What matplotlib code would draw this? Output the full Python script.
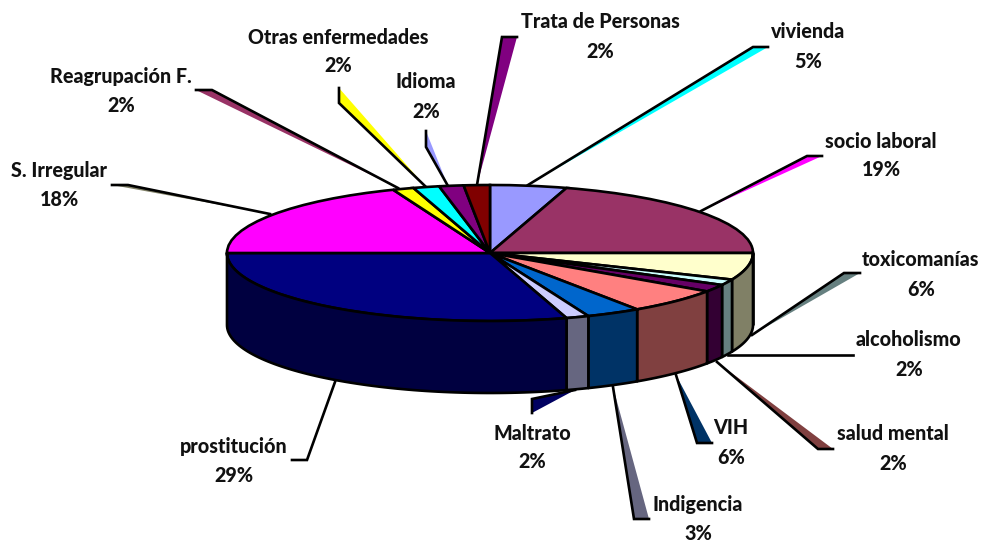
import numpy as np
import matplotlib
matplotlib.use("Agg")
import matplotlib.pyplot as plt

plt.rcParams['font.family'] = ['Lato', 'DejaVu Sans']

# clockwise from 12 o'clock
categories = ['vivienda', 'socio laboral', 'toxicomanías', 'alcoholismo', 'salud mental', 'VIH',
              'Indigencia', 'Maltrato', 'prostitución', 'S. Irregular', 'Reagrupación F.',
              'Otras enfermedades', 'Idioma', 'Trata de Personas']
percent_labels = [5, 19, 6, 2, 2, 6, 3, 2, 29, 18, 2, 2, 2, 2]
# slice sizes as drawn (the printed labels are rounded and do not quite match)
slice_shares = [4.7, 20.3, 6.4, 1.4, 1.75, 6.0, 3.35, 1.4, 29.7, 19.0, 1.3, 1.6, 1.5, 1.6]
slice_colors = ['#9999FF', '#993366', '#FFFFCC', '#CCFFFF', '#660066', '#FF8080', '#0066CC',
                '#CCCCFF', '#000080', '#FF00FF', '#FFFF00', '#00FFFF', '#800080', '#800000']
wall_colors = ['#4D4D80', '#4D1A33', '#808066', '#668080', '#330033', '#804040', '#003366',
               '#666680', '#000040', '#800080', '#808000', '#008080', '#400040', '#400000']

# layout, in pixels
WIDTH, HEIGHT = 984, 542
CX, CY, RX, RY = 490, 253, 263, 68
DEPTH = 72
LINE_W = 1.9

# leader: rim point, elbow, end of the shoulder
leaders = {
    'vivienda': [(528, 185), (753, 47), (768, 47)],
    'socio laboral': [(701, 211), (807, 156), (822, 156)],
    'toxicomanías': [(752, 335), (844, 273), (860, 273)],
    'alcoholismo': [(728, 355), (853, 355)],
    'salud mental': [(717, 362), (818, 449), (833, 449)],
    'VIH': [(676, 375), (697, 443), (712, 443)],
    'Indigencia': [(613, 387), (634, 519), (649, 519)],
    'Maltrato': [(575, 390), (532, 399), (532, 413)],
    'prostitución': [(335, 382), (307, 460), (292, 460)],
    'S. Irregular': [(270, 214), (128, 185), (112, 185)],
    'Reagrupación F.': [(398, 188), (212, 90), (196, 90)],
    'Otras enfermedades': [(425, 186), (339, 103), (339, 88)],
    'Idioma': [(448, 186), (426, 147), (426, 131)],
    'Trata de Personas': [(477, 185), (502, 37), (517, 37)],
}
leader_fill = {
    'vivienda': '#00FFFF', 'socio laboral': '#FF00FF', 'toxicomanías': '#668080',
    'salud mental': '#804040', 'VIH': '#003366', 'Indigencia': '#666680', 'Maltrato': '#000060',
    'S. Irregular': '#808066', 'Reagrupación F.': '#993366', 'Otras enfermedades': '#FFFF00',
    'Idioma': '#9999FF', 'Trata de Personas': '#800080',
}
label_pos = {
    'vivienda': (808, 32), 'socio laboral': (881, 141), 'toxicomanías': (921, 260),
    'alcoholismo': (909, 340), 'salud mental': (893, 434), 'VIH': (731, 428),
    'Indigencia': (698, 505), 'Maltrato': (532, 433), 'prostitución': (234, 446),
    'S. Irregular': (59, 170), 'Reagrupación F.': (121, 76), 'Otras enfermedades': (338, 37),
    'Idioma': (426, 82), 'Trata de Personas': (600, 22),
}
LABEL_GAP = 29
LABEL_SIZE = 14.2

fig = plt.figure(figsize=(WIDTH / 100, HEIGHT / 100), dpi=100)

# pixel axes for leaders and labels
ax = fig.add_axes([0, 0, 1, 1], zorder=1)
ax.set_xlim(0, WIDTH)
ax.set_ylim(HEIGHT, 0)
ax.axis('off')

for name, pct in zip(categories, percent_labels):
    pts = np.array(leaders[name])
    if name in leader_fill:
        ax.fill(pts[:, 0], pts[:, 1], color=leader_fill[name], lw=0)
    ax.plot(pts[:, 0], pts[:, 1], color='black', lw=LINE_W, solid_joinstyle='miter')
    x, y = label_pos[name]
    ax.text(x, y, name, ha='center', va='center', fontsize=LABEL_SIZE, fontweight='black', color='#111111')
    ax.text(x, y + LABEL_GAP, f'{pct}%', ha='center', va='center', fontsize=LABEL_SIZE,
            fontweight='black', color='#111111')

# pie axes: unit circle squashed to the ellipse of the top face
ax_pie = fig.add_axes([0, 0, 1, 1], zorder=2)
ax_pie.patch.set_visible(False)
ax_pie.pie(slice_shares, colors=slice_colors, startangle=90, counterclock=False, radius=1,
           wedgeprops={'edgecolor': 'black', 'linewidth': LINE_W})
ax_pie.set_aspect('auto')
ax_pie.set_xlim(-CX / RX, (WIDTH - CX) / RX)
ax_pie.set_ylim((CY - HEIGHT) / RY, CY / RY)
ax_pie.axis('off')

# side wall, only the front half shows
depth = DEPTH / RY
edges = np.concatenate([[0], np.cumsum(slice_shares)]) / np.sum(slice_shares) * 2 * np.pi
for i in range(len(slice_shares)):
    a0, a1 = max(edges[i], np.pi / 2), min(edges[i + 1], 3 * np.pi / 2)
    if a1 <= a0:
        continue
    t = np.linspace(a0, a1, 80)
    xs, ys = np.sin(t), np.cos(t)
    ax_pie.fill(np.r_[xs, xs[::-1]], np.r_[ys, ys[::-1] - depth], facecolor=wall_colors[i],
                edgecolor='black', lw=LINE_W, joinstyle='round')

fig.savefig('out.png', dpi=100, facecolor='white')
